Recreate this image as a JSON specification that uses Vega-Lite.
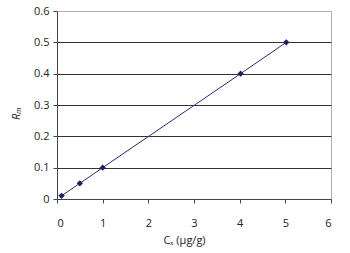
{
  "$schema": "https://vega.github.io/schema/vega-lite/v6.json",
  "autosize": "none",
  "width": 274,
  "height": 188,
  "padding": {"left": 57, "top": 11, "right": 19, "bottom": 54},
  "background": "white",
  "config": {
    "view": {"stroke": "#b0b0b0", "strokeWidth": 1},
    "axis": {
      "labelFont": "Open Sans",
      "titleFont": "Open Sans",
      "labelFontSize": 11,
      "titleFontSize": 11,
      "labelColor": "#222",
      "titleColor": "#222",
      "titleFontWeight": "normal",
      "domainColor": "#444",
      "tickColor": "#444"
    }
  },
  "data": {
    "values": [
      {"cx": 0.1, "rm": 0.01},
      {"cx": 0.5, "rm": 0.05},
      {"cx": 1.0, "rm": 0.1},
      {"cx": 4.02, "rm": 0.4},
      {"cx": 5.02, "rm": 0.5}
    ]
  },
  "encoding": {
    "x": {
      "field": "cx",
      "type": "quantitative",
      "scale": {"domain": [0, 6], "nice": false, "zero": true},
      "axis": {
        "title": "Cₓ (µg/g)",
        "values": [0, 1, 2, 3, 4, 5, 6],
        "format": "d",
        "grid": false,
        "tickSize": 4,
        "labelPadding": 14,
        "titleX": 127,
        "titleY": 41,
        "titleBaseline": "middle"
      }
    },
    "y": {
      "field": "rm",
      "type": "quantitative",
      "scale": {"domain": [0, 0.6], "nice": false},
      "axis": {
        "title": "Rₘ",
        "titleFontStyle": "italic",
        "values": [0, 0.1, 0.2, 0.3, 0.4, 0.5, 0.6],
        "format": ".1~f",
        "tickSize": 4,
        "labelPadding": 4,
        "grid": true,
        "gridColor": {"condition": {"test": "datum.value >= 0.6", "value": "#b0b0b0"}, "value": "#333"},
        "gridWidth": 1,
        "titleX": -41,
        "titleY": 102,
        "titleBaseline": "middle",
        "titleAlign": "center"
      }
    }
  },
  "layer": [
    {"mark": {"type": "line", "color": "#2a2a70", "strokeWidth": 1}},
    {"mark": {"type": "point", "shape": "diamond", "filled": true, "color": "#1f1f66", "size": 40, "opacity": 1}}
  ]
}
